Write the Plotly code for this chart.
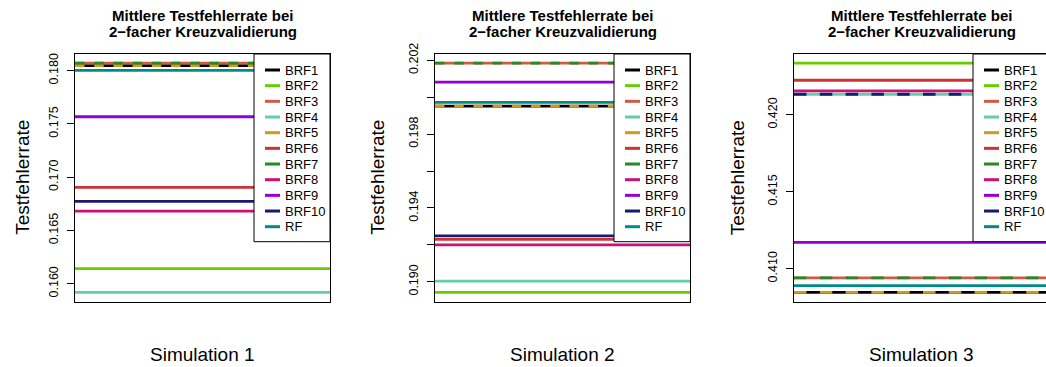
import plotly.graph_objects as go

# Mean test error rate of each forest variant, one list per simulation
series = ["BRF1", "BRF2", "BRF3", "BRF4", "BRF5", "BRF6", "BRF7", "BRF8", "BRF9", "BRF10", "RF"]
colors = ["#000000", "#66CD00", "#CD5B45", "#66CDAA", "#CD9B1D", "#CD3333",
          "#228B22", "#CD1076", "#9400D3", "#191970", "#008B8B"]

sim1 = [0.18047, 0.16141, 0.18070, 0.15919, 0.18047, 0.16904, 0.18070, 0.16682, 0.17567, 0.16773, 0.18003]
sim2 = [0.19951, 0.18943, 0.20184, 0.19004, 0.19951, 0.19230, 0.20184, 0.19200, 0.20081, 0.19249, 0.19972]
sim3 = [0.40846, 0.42336, 0.40940, 0.42134, 0.40846, 0.42225, 0.40940, 0.42156, 0.41171, 0.42134, 0.40889]

panel_labels = ["Simulation 1", "Simulation 2", "Simulation 3"]

tickvals1 = [0.160, 0.165, 0.170, 0.175, 0.180]
ticktext1 = ["0.160", "0.165", "0.170", "0.175", "0.180"]
tickvals2 = [0.190, 0.192, 0.194, 0.196, 0.198, 0.200, 0.202]
ticktext2 = ["0.190", "", "0.194", "", "0.198", "", "0.202"]
tickvals3 = [0.410, 0.415, 0.420]
ticktext3 = ["0.410", "0.415", "0.420"]

title_line1 = "Mittlere Testfehlerrate bei"
title_line2 = "2\u2212facher Kreuzvalidierung"
y_title = "Testfehlerrate"

# ---- page geometry (pixels) ----
W, H = 1046, 367
FONT = "Liberation Sans, Arial, Helvetica, sans-serif"
BOX_W = 255
BOX_LEFT = [75, 435, 794]
YLAB_OFFSET = [52, 57, 56.5]
BOX_TOP, BOX_BOTTOM = 54, 301.5
LEG_W, LEG_BOTTOM = 76, 241.7
ROW0, ROW_STEP = 70, 15.67


def px(x):
    return x / W


def py(y):
    return 1 - y / H


panels = [
    (sim1, tickvals1, ticktext1, {"BRF5", "BRF7"}, "9.5px,9.7px"),
    (sim2, tickvals2, ticktext2, {"BRF5", "BRF7"}, "9.5px,9.7px"),
    (sim3, tickvals3, ticktext3, {"BRF5", "BRF7", "BRF10"}, "12.5px,13.3px"),
]

fig = go.Figure()
annotations = []
shapes = []

for p, (values, tv, tt, dashed, dash_pat) in enumerate(panels):
    n = p + 1
    xa = "x" if n == 1 else f"x{n}"
    ya = "y" if n == 1 else f"y{n}"
    left = BOX_LEFT[p]
    right = left + BOX_W
    visible_right = min(right, W)

    # one horizontal line per method, spanning the whole panel
    for name, col, v in zip(series, colors, values):
        fig.add_trace(go.Scatter(
            x=[0, 1], y=[v, v], mode="lines", name=name,
            line=dict(color=col, width=2.8,
                      dash=dash_pat if name in dashed else "solid"),
            xaxis=xa, yaxis=ya, showlegend=False, hoverinfo="name+y",
        ))

    lo, hi = min(values), max(values)
    pad = 0.04 * (hi - lo)
    fig.layout[("xaxis" if n == 1 else f"xaxis{n}")] = dict(
        domain=[px(left), px(visible_right)],
        range=[0, (visible_right - left) / BOX_W],
        showticklabels=False, ticks="", showgrid=False, zeroline=False,
        showline=True, mirror=True, linecolor="black", linewidth=1,
        anchor=ya, automargin=False,
    )
    fig.layout[("yaxis" if n == 1 else f"yaxis{n}")] = dict(
        domain=[py(BOX_BOTTOM), py(BOX_TOP)],
        range=[lo - pad, hi + pad],
        tickvals=tv, ticktext=tt, tickangle=-90,
        ticks="outside", ticklen=7, tickwidth=1, tickcolor="black",
        ticklabelstandoff=4,
        tickfont=dict(family=FONT, size=12.5, color="black"),
        showgrid=False, zeroline=False,
        showline=True, mirror=(right <= W), linecolor="black", linewidth=1,
        anchor=xa, automargin=False,
    )

    cx = (left + right) / 2
    # two-line bold title
    for txt, yy in ((title_line1, 15), (title_line2, 31)):
        annotations.append(dict(
            text=f"<b>{txt}</b>", x=px(cx), y=py(yy), xref="paper", yref="paper",
            xanchor="center", yanchor="middle", showarrow=False,
            font=dict(family=FONT, size=15, color="black"),
        ))
    # y axis title
    annotations.append(dict(
        text=y_title, x=px(left - YLAB_OFFSET[p]), y=py((BOX_TOP + BOX_BOTTOM) / 2),
        xref="paper", yref="paper", xanchor="center", yanchor="middle",
        textangle=-90, showarrow=False,
        font=dict(family=FONT, size=19, color="black"),
    ))
    # panel caption below
    annotations.append(dict(
        text=panel_labels[p], x=px(cx), y=py(354), xref="paper", yref="paper",
        xanchor="center", yanchor="middle", showarrow=False,
        font=dict(family=FONT, size=19, color="black"),
    ))

    # legend box in the upper right corner of the panel
    lx0 = right - LEG_W
    shapes.append(dict(
        type="rect", xref="paper", yref="paper",
        x0=px(lx0), x1=px(right), y0=py(BOX_TOP), y1=py(LEG_BOTTOM),
        fillcolor="white", line=dict(color="black", width=1), layer="above",
    ))
    for i, (name, col) in enumerate(zip(series, colors)):
        ry = ROW0 + i * ROW_STEP
        shapes.append(dict(
            type="line", xref="paper", yref="paper",
            x0=px(lx0 + 11), x1=px(lx0 + 26), y0=py(ry), y1=py(ry),
            line=dict(color=col, width=3), layer="above",
        ))
        annotations.append(dict(
            text=name, x=px(lx0 + 29), y=py(ry), xref="paper", yref="paper",
            xanchor="left", yanchor="middle", showarrow=False,
            font=dict(family=FONT, size=13, color="black"),
        ))

fig.update_layout(
    width=W, height=H,
    margin=dict(l=0, r=0, t=0, b=0, autoexpand=False),
    paper_bgcolor="white", plot_bgcolor="white",
    showlegend=False,
    annotations=annotations, shapes=shapes,
)

fig.write_html("out.html")
